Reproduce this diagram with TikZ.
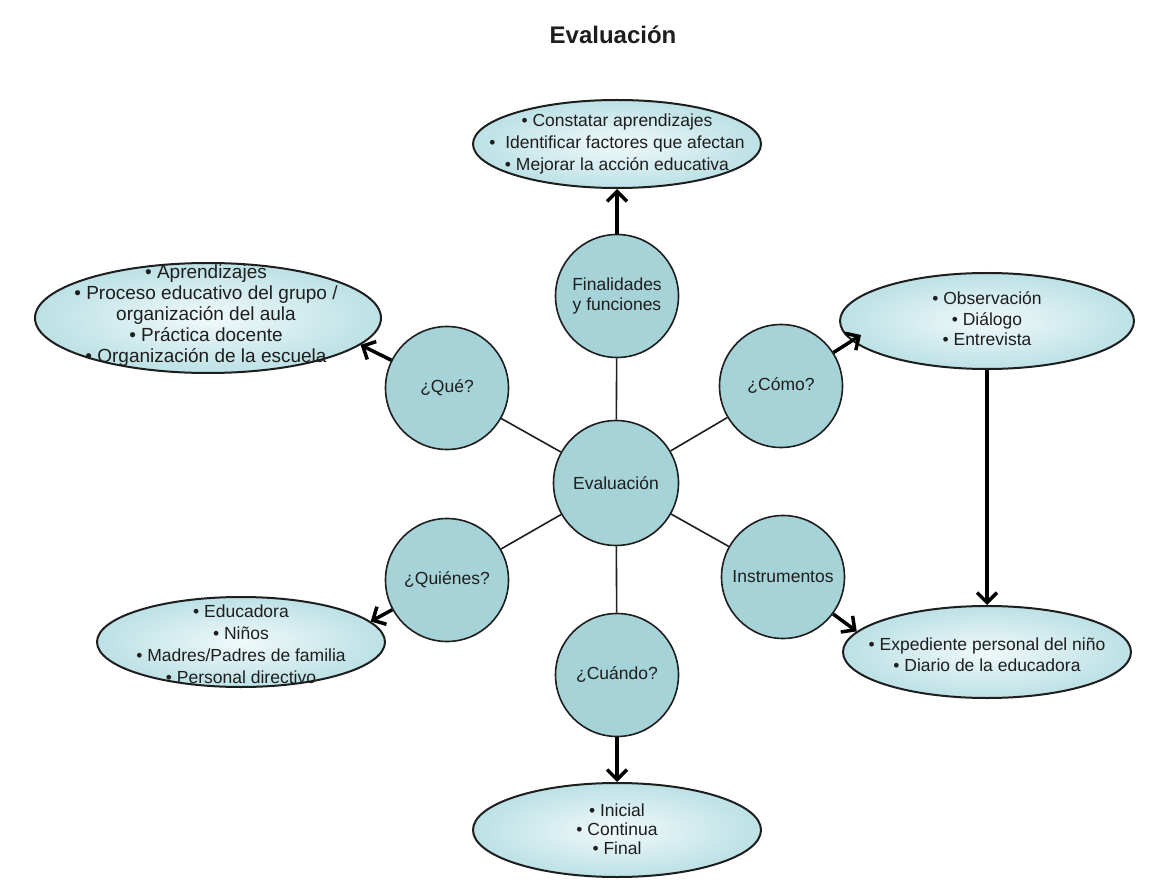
\documentclass[tikz,border=0pt]{standalone}
\usepackage{fontspec}
\setmainfont{Liberation Sans}
\usetikzlibrary{shapes.geometric,arrows.meta}
\definecolor{circfill}{RGB}{165,211,215}
\definecolor{ellin}{RGB}{240,249,250}
\definecolor{ellout}{RGB}{188,225,229}
\definecolor{ink}{RGB}{30,30,30}
\begin{document}
\begin{tikzpicture}[x=1pt,y=-1pt,
  bubble/.style={circle,draw=ink,line width=1.6pt,fill=circfill,minimum size=123pt,inner sep=0pt,
    font=\fontsize{17.5}{20}\selectfont,align=center,text=ink},
  oval/.style={ellipse,draw=ink,line width=2pt,inner color=ellin,outer color=ellout,inner sep=0pt},
  txt/.style={font=\fontsize{17.5}{22}\selectfont,align=center,text=ink,inner sep=0pt},
  link/.style={draw=ink,line width=1.6pt},
  arr/.style={draw=black,line width=3.5pt,-{Straight Barb[length=10pt,width=20pt]}}]
\useasboundingbox[fill=white] (0,0) rectangle (1170,890);

\node[font=\fontsize{24}{28}\selectfont\bfseries,text=ink,anchor=base] (title) at (613,44) {Evaluación};

% outer ellipses
\node[oval,minimum width=288pt,minimum height=88pt] (FE) at (617,144) {};
\node[oval,minimum width=346pt,minimum height=110pt] (QueE) at (208,318) {};
\node[oval,minimum width=294pt,minimum height=96pt] (ComoE) at (987,321) {};
\node[oval,minimum width=288pt,minimum height=90pt] (QuienE) at (241,642) {};
\node[oval,minimum width=288pt,minimum height=92pt] (InsE) at (987,652) {};
\node[oval,minimum width=288pt,minimum height=94pt] (CuandoE) at (617,830) {};

\node[txt] (FT) at (FE) {• Constatar aprendizajes\\• \ Identificar factores que afectan\\• Mejorar la acción educativa};
\node[txt,font=\fontsize{19}{21}\selectfont] (QueT) at (206,316) {• Aprendizajes\\• Proceso educativo del grupo /\\organización del aula\\• Práctica docente\\• Organización de la escuela};
\node[txt,font=\fontsize{17.5}{20.5}\selectfont] (ComoT) at (987,319) {• Observación\\• Diálogo\\• Entrevista};
\node[txt] (QuienT) at (241,644) {• Educadora\\• Niños\\• Madres/Padres de familia\\• Personal directivo};
\node[txt,font=\fontsize{17.5}{21}\selectfont] (InsT) at (987,655) {• Expediente personal del niño\\• Diario de la educadora};
\node[txt,font=\fontsize{17.5}{19}\selectfont] (CuandoT) at (617,829) {• Inicial\\• Continua\\• Final};

% circles
\node[bubble,minimum size=125pt] (C) at (616,483) {Evaluación};
\node[bubble] (F) at (617,296) {Finalidades\\y funciones};
\node[bubble] (Que) at (447,388) {¿Qué?};
\node[bubble] (Como) at (781,386) {¿Cómo?};
\node[bubble] (Quien) at (447,580) {¿Quiénes?};
\node[bubble] (Ins) at (783,577) {Instrumentos};
\node[bubble] (Cuando) at (617,675) {¿Cuándo?};

\coordinate (ComoTip) at (861,335);

% spokes
\draw[link] (C) -- (F);
\draw[link] (C) -- (Que);
\draw[link] (C) -- (Como);
\draw[link] (C) -- (Quien);
\draw[link] (C) -- (Ins);
\draw[link] (C) -- (Cuando);

% arrows
\draw[arr] (F) -- (FE);
\draw[arr] (Que) -- (QueE.-10);
\draw[arr] (Como) -- (ComoTip);
\draw[arr] (Quien) -- (QuienE.9);
\draw[arr] (Ins) -- (InsE.171);
\draw[arr] (Cuando) -- (CuandoE);
\draw[arr] (ComoE) -- (InsE);
\end{tikzpicture}
\end{document}
